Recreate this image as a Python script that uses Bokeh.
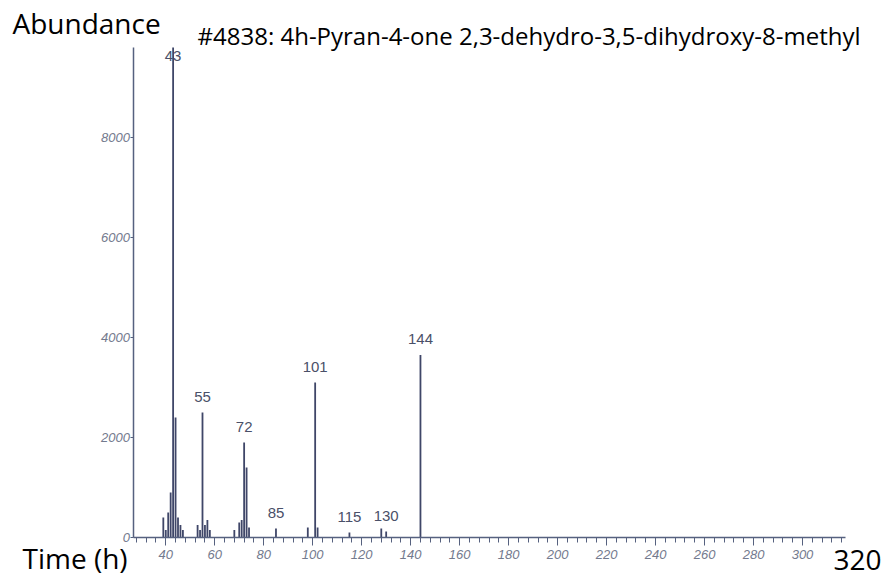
from bokeh.plotting import figure
from bokeh.models import ColumnDataSource, Range1d, FixedTicker, Label, LinearAxis
from bokeh.core.properties import value
from bokeh.embed import file_html
from bokeh.resources import INLINE

# m/z values and abundances
mz = [39, 40, 41, 42, 43, 44, 45, 46, 47, 53, 54, 55, 56, 57, 58,
      68, 70, 71, 72, 73, 74, 85, 98, 101, 102, 115, 128, 130, 144]
abundance = [400, 150, 500, 900, 9800, 2400, 400, 250, 150, 250, 150, 2500, 250, 350, 150,
             150, 300, 350, 1900, 1400, 200, 180, 200, 3100, 200, 100, 180, 120, 3650]

label_mz = [55, 72, 85, 101, 115, 130, 144]
label_ab = [2500, 1900, 180, 3100, 100, 120, 3650]
base_mz = [43]
base_ab = [9800]

x_ticks = [40, 60, 80, 100, 120, 140, 160, 180, 200, 220, 240, 260, 280, 300]
y_ticks = [0, 2000, 4000, 6000, 8000]
x_axis_span = (27, 317.5)
y_axis_span = (0, 9800)

title_text = "#4838: 4h-Pyran-4-one 2,3-dehydro-3,5-dihydroxy-8-methyl"

W, H = 883, 577
# frame fills the canvas; axes are pinned at the data origin of the spectrum
p = figure(width=W, height=H, output_backend="svg", toolbar_location=None,
           x_range=Range1d(-27.48, 333.07), y_range=Range1d(-800, 10740),
           x_axis_type=None, y_axis_type=None,
           min_border_left=0, min_border_right=0, min_border_top=0, min_border_bottom=0)
p.outline_line_color = None
p.background_fill_color = "white"
p.border_fill_color = "white"

axis_col = "#56617f"
tick_col = "#737a8e"

xaxis = LinearAxis(fixed_location=y_axis_span[0], bounds=x_axis_span,
                   ticker=FixedTicker(ticks=x_ticks, minor_ticks=list(range(28, 318, 4))))
yaxis = LinearAxis(fixed_location=x_axis_span[0], bounds=y_axis_span,
                   ticker=FixedTicker(ticks=y_ticks, minor_ticks=[]))
for ax in (xaxis, yaxis):
    ax.axis_line_color = axis_col
    ax.axis_line_width = 1.5
    ax.major_tick_line_color = axis_col
    ax.minor_tick_line_color = axis_col
    ax.major_label_text_color = tick_col
    ax.major_label_text_font = "Liberation Sans"
    ax.major_label_text_font_size = "13px"
    ax.major_label_text_font_style = "italic"
xaxis.major_tick_out = 8
xaxis.major_tick_in = 0
xaxis.minor_tick_out = 5
xaxis.minor_tick_in = 0
xaxis.major_label_standoff = 4
yaxis.major_tick_out = 3
yaxis.major_tick_in = 0
yaxis.major_label_standoff = 1
yaxis.formatter.use_scientific = False
p.add_layout(xaxis, "below")
p.add_layout(yaxis, "left")

src = ColumnDataSource(dict(x=mz, y0=[0] * len(mz), y1=abundance))
p.segment(x0="x", y0="y0", x1="x", y1="y1", source=src, line_color="#3f4668", line_width=1.8)

lsrc = ColumnDataSource(dict(x=label_mz, y=label_ab, t=[str(v) for v in label_mz]))
p.text(x="x", y="y", text="t", source=lsrc, text_align="center", text_baseline="bottom",
       y_offset=-11, text_font=value("Liberation Sans"), text_font_size="15px",
       text_color="#4a5068")
bsrc = ColumnDataSource(dict(x=base_mz, y=base_ab, t=[str(v) for v in base_mz]))
p.text(x="x", y="y", text="t", source=bsrc, text_align="center", text_baseline="top",
       y_offset=3, text_font=value("Liberation Sans"), text_font_size="15px",
       text_color="#4a5068")

def add_label(txt, cx, cy, size, align="left"):
    p.add_layout(Label(x=cx, y=H - cy, x_units="screen", y_units="screen", text=txt,
                       text_font="Open Sans", text_font_size=size, text_color="black",
                       text_align=align, text_baseline="middle"))

add_label("Abundance", 12, 22, "28px")
add_label(title_text, 197, 35, "24px")
add_label("Time (h)", 22, 557, "28px")
add_label("320", 881, 559, "28px", align="right")

open("out.html", "w").write(file_html(p, INLINE))
